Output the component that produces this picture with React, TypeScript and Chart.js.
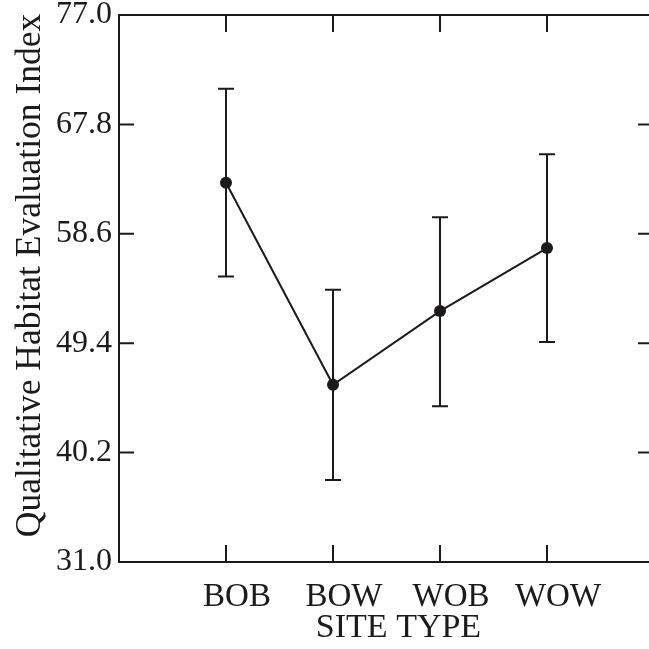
import React, { useEffect, useRef } from "react";
import { Chart, registerables } from "chart.js";

Chart.register(...registerables);

const categories = ["BOB", "BOW", "WOB", "WOW"];
const means = [62.9, 45.9, 52.1, 57.4];
const upper = [70.8, 53.9, 60.0, 65.3];
const lower = [55.0, 37.9, 44.1, 49.5];
const yTicks = [31.0, 40.2, 49.4, 58.6, 67.8, 77.0];
const yTitle = "Qualitative Habitat Evaluation Index";
const xTitle = "SITE TYPE";

const INK = "#1c1a1b";
const FONT = "'Liberation Serif', 'DejaVu Serif', serif";

const decorPlugin = {
  id: "decor",
  beforeDatasetsDraw(chart: any) {
    const { ctx, scales } = chart;
    const xs = scales.x;
    const ys = scales.y;
    ctx.save();
    ctx.strokeStyle = INK;
    ctx.lineWidth = 2;
    for (let i = 0; i < categories.length; i++) {
      const px = xs.getPixelForValue(i + 1);
      const pt = ys.getPixelForValue(upper[i]);
      const pb = ys.getPixelForValue(lower[i]);
      ctx.beginPath();
      ctx.moveTo(px, pt);
      ctx.lineTo(px, pb);
      ctx.moveTo(px - 8, pt);
      ctx.lineTo(px + 8, pt);
      ctx.moveTo(px - 8, pb);
      ctx.lineTo(px + 8, pb);
      ctx.stroke();
    }
    ctx.restore();
  },
  afterDraw(chart: any) {
    const { ctx, chartArea, scales } = chart;
    const xs = scales.x;
    const ys = scales.y;
    const { left, right, top, bottom } = chartArea;
    ctx.save();
    ctx.strokeStyle = INK;
    ctx.lineWidth = 2;
    ctx.beginPath();
    ctx.moveTo(right + 1, top);
    ctx.lineTo(left, top);
    ctx.lineTo(left, bottom);
    ctx.lineTo(right + 1, bottom);
    ctx.stroke();
    ctx.beginPath();
    for (const v of yTicks) {
      const py = ys.getPixelForValue(v);
      ctx.moveTo(left, py);
      ctx.lineTo(left + 15, py);
      ctx.moveTo(right, py);
      ctx.lineTo(right - 16, py);
    }
    for (let i = 0; i < categories.length; i++) {
      const px = xs.getPixelForValue(i + 1);
      ctx.moveTo(px, bottom);
      ctx.lineTo(px, bottom - 17);
      ctx.moveTo(px, top);
      ctx.lineTo(px, top + 17);
    }
    ctx.stroke();
    ctx.fillStyle = INK;
    // x axis title
    ctx.font = `34px ${FONT}`;
    ctx.textAlign = "center";
    ctx.textBaseline = "alphabetic";
    const cx = (xs.getPixelForValue(1) + xs.getPixelForValue(4)) / 2 + 12;
    ctx.fillText(xTitle, cx, bottom + 75);
    // y axis title
    ctx.save();
    ctx.font = `35.5px ${FONT}`;
    const cy = (top + bottom) / 2 - 13;
    ctx.translate(left - 79, cy);
    ctx.rotate(-Math.PI / 2);
    ctx.textAlign = "center";
    ctx.textBaseline = "alphabetic";
    ctx.fillText(yTitle, 0, 0);
    ctx.restore();
    ctx.restore();
  },
};

export default function App() {
  const canvasRef = useRef<HTMLCanvasElement | null>(null);

  useEffect(() => {
    const canvas = canvasRef.current;
    if (!canvas) return;
    const chart = new Chart(canvas, {
      type: "line",
      data: {
        datasets: [
          {
            data: means.map((m, i) => ({ x: i + 1, y: m })),
            borderColor: INK,
            borderWidth: 2,
            pointRadius: 6,
            pointBackgroundColor: INK,
            pointBorderColor: INK,
            pointBorderWidth: 0,
            tension: 0,
            fill: false,
          },
        ],
      },
      options: {
        responsive: false,
        animation: false,
        events: [],
        layout: { padding: { top: 15, right: 26, left: 0, bottom: 0 } },
        plugins: {
          legend: { display: false },
          tooltip: { enabled: false },
        },
        scales: {
          x: {
            type: "linear",
            min: 0,
            max: 5,
            afterBuildTicks: (scale: any) => {
              scale.ticks = categories.map((_, i) => ({ value: i + 1 }));
            },
            afterFit: (scale: any) => {
              scale.height = 649 - 562;
              scale.paddingLeft = 0;
              scale.paddingRight = 0;
            },
            ticks: {
              callback: (v: any) => categories[Number(v) - 1] ?? "",
              color: INK,
              font: { family: FONT, size: 33 },
              padding: 16,
              labelOffset: 11,
              maxRotation: 0,
              autoSkip: false,
            },
            grid: { display: false, drawTicks: false },
            border: { display: false },
          },
          y: {
            type: "linear",
            min: yTicks[0],
            max: yTicks[yTicks.length - 1],
            afterBuildTicks: (scale: any) => {
              scale.ticks = yTicks.map((v) => ({ value: v }));
            },
            afterFit: (scale: any) => {
              scale.width = 119;
              scale.paddingTop = 0;
              scale.paddingBottom = 0;
            },
            ticks: {
              callback: (v: any) => Number(v).toFixed(1),
              color: INK,
              font: { family: FONT, size: 32 },
              padding: 7,
              autoSkip: false,
            },
            grid: { display: false, drawTicks: false },
            border: { display: false },
          },
        },
      },
      plugins: [decorPlugin],
    } as any);
    return () => chart.destroy();
  }, []);

  return (
    <div
      style={{
        position: "absolute",
        left: 0,
        top: 0,
        width: 649,
        height: 649,
        overflow: "hidden",
        background: "#fff",
      }}
    >
      <canvas ref={canvasRef} width={680} height={649} style={{ display: "block" }} />
    </div>
  );
}
